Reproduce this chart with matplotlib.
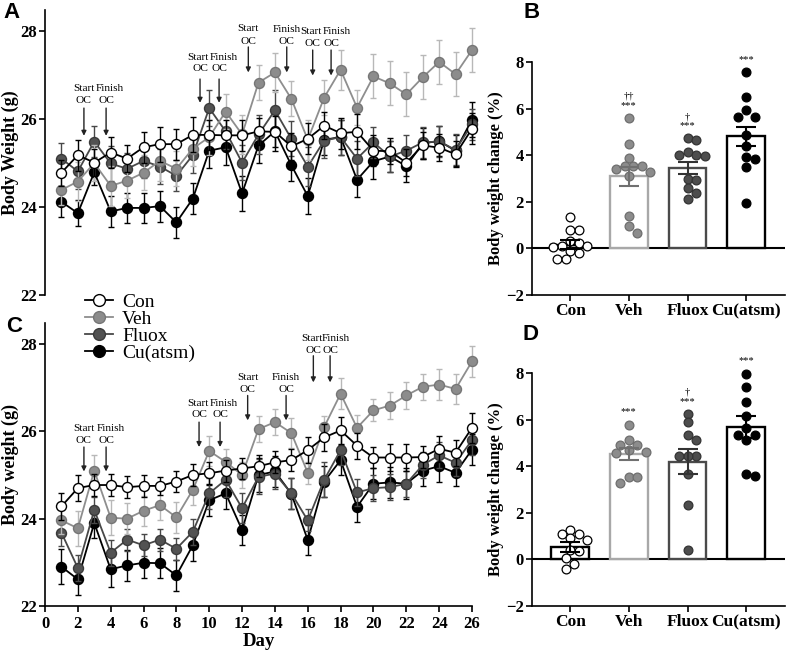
import matplotlib
matplotlib.use('Agg')
import matplotlib.pyplot as plt
import numpy as np
from matplotlib.lines import Line2D

plt.rcParams['font.family'] = ['Liberation Serif', 'DejaVu Serif']
plt.rcParams['axes.linewidth'] = 1.2

# ---------------- data ----------------
days = list(range(1, 27))
series_names = ['Con', 'Veh', 'Fluox', 'Cu(atsm)']

# Panel A body weight (g)
A_con = [24.78, 25.18, 25.01, 25.24, 25.10, 25.36, 25.43, 25.43, 25.64, 25.64, 25.63, 25.63, 25.72,
         25.71, 25.38, 25.55, 25.85, 25.68, 25.71, 25.28, 25.27, 25.01, 25.40, 25.35, 25.20, 25.78]
A_veh = [24.39, 24.58, 25.00, 24.48, 24.60, 24.78, 25.05, 24.87, 25.33, 25.59, 26.17, 25.65, 26.83,
         27.06, 26.46, 25.53, 26.49, 27.12, 26.26, 26.97, 26.81, 26.56, 26.95, 27.30, 27.02, 27.57]
A_flu = [25.10, 24.81, 25.49, 24.99, 24.87, 25.05, 24.92, 24.71, 25.18, 26.25, 25.72, 25.01, 25.65,
         26.20, 25.55, 24.92, 25.51, 25.59, 25.10, 25.47, 25.15, 25.28, 25.47, 25.49, 25.30, 25.88]
A_cu = [24.12, 23.86, 24.79, 23.90, 23.98, 23.98, 24.02, 23.65, 24.19, 25.28, 25.36, 24.31, 25.40,
        25.72, 24.95, 24.25, 25.53, 25.59, 24.62, 25.04, 25.15, 24.93, 25.45, 25.50, 25.28, 25.99]
A_con_err = [0.30, 0.35, 0.30, 0.35, 0.30, 0.35, 0.40, 0.35, 0.40, 0.35, 0.35, 0.35, 0.30,
             0.35, 0.30, 0.35, 0.30, 0.35, 0.40, 0.35, 0.30, 0.30, 0.30, 0.30, 0.30, 0.35]
A_veh_err = [0.35, 0.45, 0.40, 0.45, 0.40, 0.40, 0.45, 0.40, 0.40, 0.40, 0.40, 0.45, 0.40,
             0.45, 0.40, 0.45, 0.40, 0.45, 0.40, 0.50, 0.50, 0.50, 0.50, 0.50, 0.50, 0.50]
A_flu_err = [0.35, 0.40, 0.35, 0.40, 0.35, 0.40, 0.40, 0.35, 0.40, 0.40, 0.40, 0.40, 0.45,
             0.45, 0.40, 0.45, 0.40, 0.40, 0.40, 0.35, 0.35, 0.35, 0.35, 0.35, 0.35, 0.35]
A_cu_err = [0.35, 0.30, 0.30, 0.35, 0.35, 0.35, 0.35, 0.35, 0.35, 0.40, 0.40, 0.40, 0.40,
            0.45, 0.35, 0.40, 0.35, 0.40, 0.40, 0.40, 0.35, 0.35, 0.35, 0.35, 0.35, 0.40]

# Panel C body weight (g)
C_con = [24.28, 24.70, 24.77, 24.77, 24.72, 24.75, 24.75, 24.85, 25.00, 25.04, 25.10, 25.15, 25.20,
         25.29, 25.34, 25.57, 25.86, 26.02, 25.67, 25.40, 25.40, 25.40, 25.41, 25.60, 25.51, 26.08]
C_veh = [23.96, 23.78, 25.10, 24.02, 24.00, 24.18, 24.31, 24.03, 24.66, 25.55, 25.30, 25.00, 26.05,
         26.21, 25.96, 25.05, 26.10, 26.86, 26.08, 26.48, 26.59, 26.82, 27.02, 27.07, 26.97, 27.60]
C_flu = [23.68, 22.87, 24.20, 23.22, 23.52, 23.39, 23.52, 23.31, 23.70, 24.58, 24.89, 24.24, 24.96,
         25.03, 24.58, 23.96, 24.89, 25.57, 24.60, 24.70, 24.72, 24.80, 25.23, 25.45, 25.28, 25.80]
C_cu = [22.90, 22.61, 23.90, 22.84, 22.93, 22.99, 22.98, 22.70, 23.39, 24.42, 24.58, 23.74, 25.00,
        25.08, 24.57, 23.51, 24.85, 25.34, 24.27, 24.80, 24.83, 24.80, 25.10, 25.20, 25.05, 25.58]
C_con_err = [0.30, 0.30, 0.25, 0.25, 0.25, 0.25, 0.20, 0.25, 0.25, 0.25, 0.25, 0.25, 0.25,
             0.25, 0.25, 0.30, 0.30, 0.30, 0.30, 0.25, 0.30, 0.30, 0.25, 0.30, 0.30, 0.35]
C_veh_err = [0.30, 0.40, 0.35, 0.40, 0.35, 0.35, 0.35, 0.35, 0.35, 0.35, 0.30, 0.30, 0.30,
             0.30, 0.35, 0.25, 0.25, 0.35, 0.30, 0.25, 0.30, 0.30, 0.30, 0.35, 0.35, 0.35]
C_flu_err = [0.30, 0.30, 0.30, 0.30, 0.25, 0.25, 0.25, 0.25, 0.30, 0.35, 0.40, 0.35, 0.40,
             0.35, 0.35, 0.25, 0.40, 0.35, 0.30, 0.30, 0.30, 0.30, 0.30, 0.30, 0.30, 0.35]
C_cu_err = [0.40, 0.35, 0.35, 0.40, 0.35, 0.35, 0.35, 0.35, 0.35, 0.35, 0.35, 0.35, 0.40,
            0.35, 0.35, 0.35, 0.35, 0.35, 0.35, 0.35, 0.35, 0.35, 0.35, 0.35, 0.30, 0.35]

# Panel B body weight change (%)
B_means = [0.16, 3.09, 3.46, 4.81]
B_sems = [0.18, 0.40, 0.26, 0.42]
B_con_pts = [1.35, 0.78, 0.80, 0.30, 0.25, 0.12, 0.10, 0.05, -0.10, -0.20, -0.45, -0.45]
B_veh_pts = [5.60, 4.50, 3.90, 3.55, 3.55, 3.55, 3.40, 3.30, 3.10, 1.37, 0.97, 0.68]
B_flu_pts = [4.73, 4.64, 4.12, 4.03, 3.96, 3.99, 2.96, 2.92, 2.59, 2.37, 2.10]
B_cu_pts = [7.57, 6.49, 5.92, 5.64, 5.64, 4.85, 4.40, 3.92, 3.82, 3.49, 1.96]
B_sig = ['', '††\n***', '†\n***', '***']

# Panel D body weight change (%)
D_means = [0.52, 4.52, 4.20, 5.68]
D_sems = [0.22, 0.24, 0.55, 0.46]
D_con_pts = [1.27, 1.07, 1.07, 0.85, 0.90, 0.36, 0.40, 0.07, -0.21, -0.40]
D_veh_pts = [5.78, 5.14, 4.89, 4.89, 4.70, 4.60, 4.55, 3.55, 3.53, 3.28]
D_flu_pts = [6.25, 5.88, 5.36, 5.14, 4.42, 4.42, 4.42, 3.68, 2.32, 0.39]
D_cu_pts = [7.97, 7.42, 6.75, 6.14, 5.65, 5.36, 5.36, 5.11, 3.65, 3.56]
D_sig = ['', '***', '†\n***', '***']

# ---------------- styles ----------------
line_col = ['black', '#8e8e8e', '#484848', 'black']
face_col = ['white', '#8c8c8c', '#525252', 'black']
edge_col = ['black', '#767676', '#3a3a3a', 'black']
err_col = ['black', '#b8b8b8', '#484848', 'black']
zord = [8, 6, 5, 4]
bar_edge = ['black', '#a8a8a8', '#4a4a4a', 'black']
pt_face = ['white', '#8c8c8c', '#4d4d4d', 'black']
pt_edge = ['black', '#6e6e6e', '#333333', 'black']
bar_err_col = ['black', '#707070', '#333333', 'black']

W, H = 787, 653
fig = plt.figure(figsize=(W / 100, H / 100), dpi=100)
axA = fig.add_axes([45 / W, 1 - 295 / H, 427 / W, 285 / H])
axC = fig.add_axes([45 / W, 1 - 606 / H, 427 / W, 283 / H])
axB = fig.add_axes([532 / W, 1 - 295 / H, 253 / W, 233 / H])
axD = fig.add_axes([532 / W, 1 - 606 / H, 253 / W, 233 / H])

tick_font = dict(family='Liberation Serif', weight='bold', size=12)


def line_panel(ax, vals, errs, ylabel, show_x):
    for i in range(4):
        ax.errorbar(days, vals[i], yerr=errs[i], fmt='none', ecolor=err_col[i],
                    elinewidth=1.0, capsize=2, capthick=1.0, zorder=zord[i], clip_on=False)
        ax.plot(days, vals[i], '-', color=line_col[i], lw=1.3, marker='o', ms=7.2,
                mfc=face_col[i], mec=edge_col[i], mew=1.0, zorder=zord[i] + 0.5, clip_on=False)
    ax.set_xlim(0, 26)
    ax.set_ylim(22, 28.48)
    ax.set_yticks([22, 24, 26, 28])
    for s in ['top', 'right']:
        ax.spines[s].set_visible(False)
    ax.tick_params(axis='y', direction='out', length=4, width=1.2, pad=2)
    for lab in ax.get_yticklabels():
        lab.set_fontproperties(tick_font)
    ax.set_ylabel(ylabel, fontsize=13, fontweight='bold')
    ax.yaxis.set_label_coords(-(45 - 19) / 427, 0.5)
    if show_x:
        ax.set_xticks(range(0, 27, 2))
        ax.tick_params(axis='x', direction='out', length=4, width=1.2, pad=3)
        for lab in ax.get_xticklabels():
            lab.set_fontproperties(tick_font)
        ax.set_xlabel('Day', fontsize=13.5, fontweight='bold', labelpad=1)
    else:
        ax.spines['bottom'].set_visible(False)
        ax.set_xticks([])


line_panel(axA, [A_con, A_veh, A_flu, A_cu], [A_con_err, A_veh_err, A_flu_err, A_cu_err],
           'Body Weight (g)', False)
line_panel(axC, [C_con, C_veh, C_flu, C_cu], [C_con_err, C_veh_err, C_flu_err, C_cu_err],
           'Body weight (g)', True)


def oc_marks(ax, marks):
    # marks: (arrow_x, text_x, word, y_word, y_oc, y_top, y_tip)
    for ax_x, tx, word, yw, yo, yt, yp in marks:
        ax.text(tx, yw, word, ha='center', va='center', fontsize=8.2, zorder=20)
        ax.text(ax_x, yo, 'OC', ha='center', va='center', fontsize=8.2, zorder=20)
        ax.annotate('', xy=(ax_x, yp), xytext=(ax_x, yt),
                    arrowprops=dict(arrowstyle='-|>', color='#222222', lw=1.0,
                                    mutation_scale=7, shrinkA=0, shrinkB=0), zorder=20)


oc_marks(axA, [
    (2.37, 2.40, 'Start', 26.70, 26.42, 26.25, 25.62),
    (3.72, 3.92, 'Finish', 26.70, 26.42, 26.25, 25.62),
    (9.44, 9.30, 'Start', 27.40, 27.14, 26.91, 26.37),
    (10.60, 10.90, 'Finish', 27.40, 27.14, 26.91, 26.37),
    (12.38, 12.38, 'Start', 28.05, 27.77, 27.64, 27.06),
    (14.72, 14.72, 'Finish', 28.03, 27.77, 27.64, 27.06),
    (16.30, 16.22, 'Start', 27.98, 27.71, 27.57, 26.99),
    (17.42, 17.78, 'Finish', 27.98, 27.71, 27.57, 26.99),
])
oc_marks(axC, [
    (2.37, 2.40, 'Start', 26.07, 25.80, 25.64, 25.08),
    (3.72, 3.98, 'Finish', 26.07, 25.80, 25.64, 25.08),
    (9.38, 9.30, 'Start', 26.64, 26.38, 26.21, 25.64),
    (10.66, 10.88, 'Finish', 26.64, 26.38, 26.21, 25.64),
    (12.34, 12.34, 'Start', 27.23, 26.95, 26.82, 26.25),
    (14.68, 14.68, 'Finish', 27.23, 26.95, 26.82, 26.25),
    (16.34, 16.28, 'Start', 28.12, 27.84, 27.73, 27.12),
    (17.36, 17.68, 'Finish', 28.12, 27.84, 27.73, 27.12),
])


def swarm_x(ax, xc, vals, diam_px):
    trans = ax.transData
    x0 = trans.transform((xc, 0))[0]
    ys = [trans.transform((xc, v))[1] for v in vals]
    order = np.argsort(ys)[::-1]
    placed = []
    out = [0.0] * len(vals)
    cands = [0.0]
    for j in range(1, 12):
        cands += [j * 0.5, -j * 0.5]
    for i in order:
        y = ys[i]
        xp = x0
        for c in cands:
            xp = x0 + c * diam_px
            if all((xp - px) ** 2 + (y - py) ** 2 >= (0.98 * diam_px) ** 2 for px, py in placed):
                break
        placed.append((xp, y))
        out[i] = trans.inverted().transform((xp, y))[0]
    return out


def bar_panel(ax, means, sems, pts, sig):
    x = np.arange(4)
    ax.set_xlim(-0.65, 3.66)
    ax.set_ylim(-2, 8)
    ax.axhline(0, color='black', lw=1.5, zorder=1)
    ax.bar(x, means, width=0.64, color='white', edgecolor=bar_edge, linewidth=1.7, zorder=2)
    for i in range(4):
        xs = swarm_x(ax, x[i], pts[i], 8.6)
        ax.scatter(xs, pts[i], s=40, c=pt_face[i], edgecolors=pt_edge[i], linewidths=0.9,
                   zorder=3, clip_on=False)
        ax.errorbar(x[i], means[i], yerr=sems[i], fmt='none', ecolor=bar_err_col[i],
                    elinewidth=1.5, capsize=7.5, capthick=1.5, zorder=4)
        if sig[i]:
            top = max(pts[i])
            ax.text(x[i], top + 0.35, sig[i], ha='center', va='bottom', fontsize=7.5,
                    linespacing=1.0)
    ax.set_xticks(x)
    ax.set_xticklabels(series_names)
    ax.set_yticks([-2, 0, 2, 4, 6, 8])
    for s in ['top', 'right']:
        ax.spines[s].set_visible(False)
    ax.tick_params(axis='both', direction='out', length=4, width=1.2, pad=2)
    for lab in ax.get_yticklabels():
        lab.set_fontproperties(tick_font)
    for lab in ax.get_xticklabels():
        lab.set_fontproperties(dict(family='Liberation Serif', weight='bold', size=12.5))
    ax.set_ylabel('Body weight change (%)', fontsize=12, fontweight='bold')
    ax.yaxis.set_label_coords(-(532 - 504) / 253, 0.5)


bar_panel(axB, B_means, B_sems, [B_con_pts, B_veh_pts, B_flu_pts, B_cu_pts], B_sig)
bar_panel(axD, D_means, D_sems, [D_con_pts, D_veh_pts, D_flu_pts, D_cu_pts], D_sig)

# legend
handles = [Line2D([0], [0], color=line_col[i], lw=1.3, marker='o', ms=8.5, mfc=face_col[i],
                  mec=edge_col[i], mew=1.0) for i in range(4)]
fig.legend(handles, series_names, loc='upper left', bbox_to_anchor=(85 / W, 1 - 293 / H),
           bbox_transform=fig.transFigure, frameon=False, fontsize=14, labelspacing=-0.02,
           handlelength=1.45, handletextpad=0.45, borderaxespad=0, borderpad=0)

# panel letters
for letter, px, py in [('A', 12, 12), ('B', 532, 12), ('C', 14, 327), ('D', 531, 334)]:
    fig.text(px / W, 1 - py / H, letter, family='Liberation Sans', weight='bold', fontsize=16,
             ha='center', va='center')

fig.savefig('out.png', dpi=100)
